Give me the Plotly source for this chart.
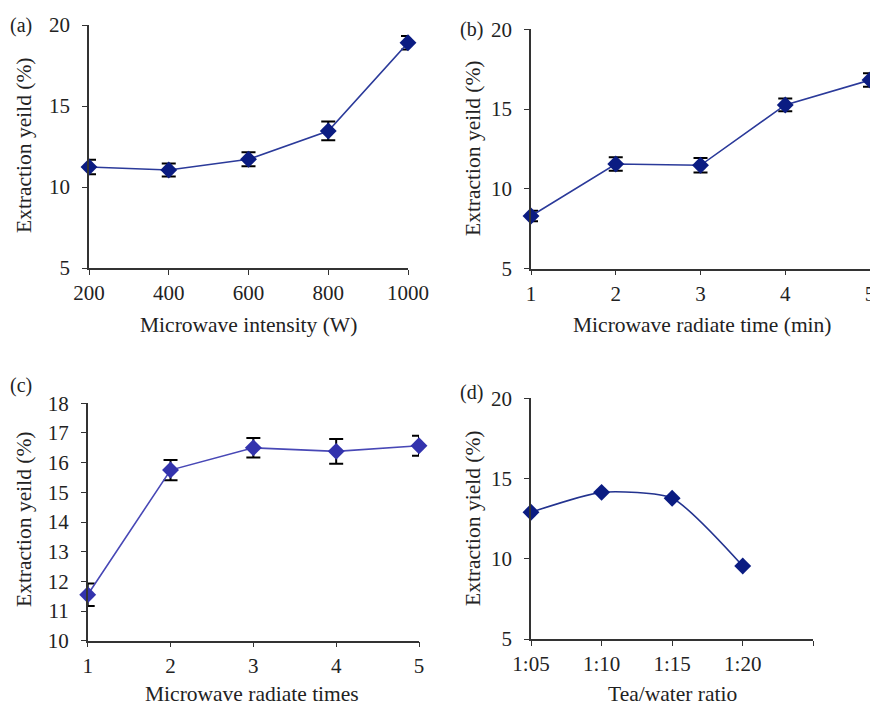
import plotly.graph_objects as go

W, H = 870, 706

# ---- data ----
a_x = [200, 400, 600, 800, 1000]
a_y = [11.23, 11.05, 11.71, 13.46, 18.9]
a_err = [0.45, 0.4, 0.43, 0.58, 0.42]

b_x = [1, 2, 3, 4, 5]
b_y = [8.3, 11.56, 11.48, 15.26, 16.82]
b_err = [0.33, 0.42, 0.45, 0.4, 0.42]

c_x = [1, 2, 3, 4, 5]
c_y = [11.55, 15.75, 16.5, 16.38, 16.57]
c_err = [0.38, 0.34, 0.33, 0.42, 0.34]

d_labels = ["1:05", "1:10", "1:15", "1:20"]
d_y = [12.9, 14.14, 13.77, 9.55]

FONT = "Liberation Serif, Times New Roman, serif"
NAVY = "#0b1c82"
LINE = "#2b3a9a"
C_MARK = "#3333ad"
C_LINE = "#4848b6"

fig = go.Figure()

def px_x(p):
    return min(1.0, p / W)

def px_y(p):
    return 1 - p / H

def add_series(x, y, err, xa, ya, mcolor, lcolor, shape="linear"):
    kw = {}
    if err is not None:
        kw["error_y"] = dict(type="data", array=err, visible=True, color="black",
                             thickness=2, width=7)
    fig.add_trace(go.Scatter(
        x=x, y=y, mode="lines+markers", xaxis=xa, yaxis=ya,
        line=dict(color=lcolor, width=1.6, shape=shape, smoothing=0.6),
        marker=dict(symbol="diamond", size=13, color=mcolor),
        cliponaxis=False, showlegend=False, **kw))

add_series(a_x, a_y, a_err, "x", "y", NAVY, LINE)
add_series(b_x, b_y, b_err, "x2", "y2", NAVY, LINE)
add_series(c_x, c_y, c_err, "x3", "y3", C_MARK, C_LINE)
d_pos = list(range(len(d_labels)))
add_series(d_pos, d_y, None, "x4", "y4", NAVY, "#23338f", shape="spline")

axis_common = dict(showline=True, linecolor="#333333", linewidth=1.5,
                   ticks="outside", ticklen=5, tickcolor="#333333", tickwidth=1.3,
                   showgrid=False, zeroline=False, automargin=False,
                   ticklabeloverflow="allow",
                   tickfont=dict(family=FONT, size=21, color="#222222"))

fig.update_layout(
    width=W, height=H, margin=dict(l=0, r=0, t=0, b=0, autoexpand=False),
    paper_bgcolor="white", plot_bgcolor="white",
    xaxis=dict(domain=[px_x(89), px_x(408)], range=[200, 1000],
               tickvals=a_x, anchor="y", **axis_common),
    yaxis=dict(domain=[px_y(268), px_y(25)], range=[5, 20],
               tickvals=[5, 10, 15, 20], anchor="x", ticklabelstandoff=8, **axis_common),
    xaxis2=dict(domain=[px_x(531), px_x(870)], range=[1, 5],
                tickvals=b_x, anchor="y2", **axis_common),
    yaxis2=dict(domain=[px_y(268.7), px_y(29.3)], range=[5, 20],
                tickvals=[5, 10, 15, 20], anchor="x2", ticklabelstandoff=8, **axis_common),
    xaxis3=dict(domain=[px_x(87.7), px_x(419)], range=[1, 5],
                tickvals=c_x, anchor="y3", **axis_common),
    yaxis3=dict(domain=[px_y(640.7), px_y(403.3)], range=[10, 18],
                tickvals=list(range(10, 19)), anchor="x3", ticklabelstandoff=8, **axis_common),
    xaxis4=dict(domain=[px_x(531), px_x(813.3)], range=[0, 4],
                tickvals=[0, 1, 2, 3, 4], ticktext=d_labels + [""], anchor="y4", **axis_common),
    yaxis4=dict(domain=[px_y(639), px_y(398.3)], range=[5, 20],
                tickvals=[5, 10, 15, 20], anchor="x4", ticklabelstandoff=8, **axis_common),
)

def ann(text, x, y, angle=0, size=21.5):
    fig.add_annotation(text=text, x=px_x(x), y=px_y(y), xref="paper", yref="paper",
                       showarrow=False, textangle=angle, xanchor="center", yanchor="middle",
                       font=dict(family=FONT, size=size, color="#222222"))

# panel labels
ann("(a)", 21, 25, size=20)
ann("(b)", 471, 30, size=20)
ann("(c)", 21, 385, size=20)
ann("(d)", 471, 392, size=20)

# x titles
ann("Microwave intensity (W)", 248, 325)
ann("Microwave radiate time (min)", 702, 325)
ann("Microwave radiate times", 252, 694)
ann("Tea/water ratio", 672, 694)

# y titles
ann("Extraction yeild (%)", 24, 145, angle=-90)
ann("Extraction yeild (%)", 473, 148, angle=-90)
ann("Extraction yeild (%)", 24, 519, angle=-90)
ann("Extraction yield (%)", 473, 518, angle=-90)

fig.write_html("out.html", config={"displayModeBar": False},
               post_script="document.body.style.margin='0';document.body.style.overflow='hidden';")
